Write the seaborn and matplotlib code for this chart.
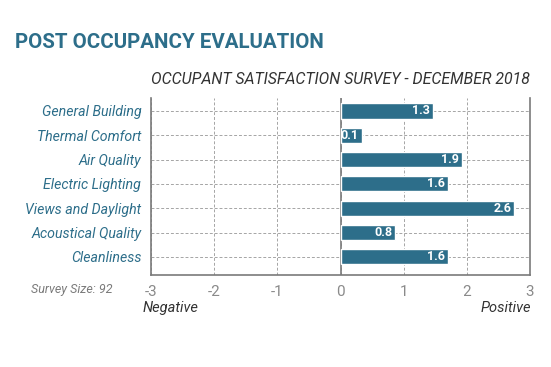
import matplotlib
matplotlib.use("Agg")
import matplotlib.pyplot as plt
import seaborn as sns

categories = ["General Building", "Thermal Comfort", "Air Quality", "Electric Lighting",
              "Views and Daylight", "Acoustical Quality", "Cleanliness"]
bar_lengths = [1.47, 0.34, 1.92, 1.70, 2.75, 0.87, 1.70]
bar_labels = ["1.3", "0.1", "1.9", "1.6", "2.6", "0.8", "1.6"]
x_ticks = [-3, -2, -1, 0, 1, 2, 3]

sns.set_style("white")
plt.rcParams["font.family"] = ["Roboto", "DejaVu Sans"]

teal = "#2d6e8a"
grey = "#7a7a7a"

fig = plt.figure(figsize=(5.51, 3.67), dpi=100)
ax = fig.add_axes([0.274, 0.251, 0.688, 0.482])

sns.barplot(x=bar_lengths, y=categories, color=teal, orient="h", width=0.62,
            saturation=1, ax=ax, zorder=3)

ax.set_xlim(-3, 3)
ax.set_ylim(6.74, -0.535)
ax.set_xticks(x_ticks)
ax.set_xticklabels([str(t) for t in x_ticks])
ax.tick_params(axis="x", length=0, pad=7, labelsize=11, labelcolor="#8a8a8a")
ax.tick_params(axis="y", length=0, pad=7, labelsize=10.2, labelcolor=teal)
for lab in ax.get_yticklabels():
    lab.set_fontstyle("italic")

ax.grid(True, axis="both", linestyle=(0, (3, 2)), color="#a5a5a5", linewidth=0.7, zorder=0)
ax.axvline(0, color=grey, linewidth=1.2, zorder=2)
ax.set_xlabel("")
ax.set_ylabel("")

for s in ["left", "right", "bottom"]:
    ax.spines[s].set_color(grey)
    ax.spines[s].set_linewidth(1.2)
ax.spines["top"].set_visible(False)

for i, (v, lab) in enumerate(zip(bar_lengths, bar_labels)):
    ax.text(v - 0.05, i, lab, ha="right", va="center", color="white",
            fontsize=9, fontweight="bold", zorder=4)

fig.text(0.027, 0.885, "POST OCCUPANCY EVALUATION", fontsize=14.8, fontweight="bold",
         color=teal, ha="left", va="center")
fig.text(0.962, 0.784, "OCCUPANT SATISFACTION SURVEY - DECEMBER 2018", fontsize=11.4,
         style="italic", color="#333333", ha="right", va="center")
fig.text(0.204, 0.210, "Survey Size: 92", fontsize=9, style="italic", color=grey,
         ha="right", va="center")
fig.text(0.258, 0.160, "Negative", fontsize=10.5, style="italic", color="#333333",
         ha="left", va="center")
fig.text(0.964, 0.160, "Positive", fontsize=10.5, style="italic", color="#333333",
         ha="right", va="center")

fig.savefig("out.png", dpi=100)
